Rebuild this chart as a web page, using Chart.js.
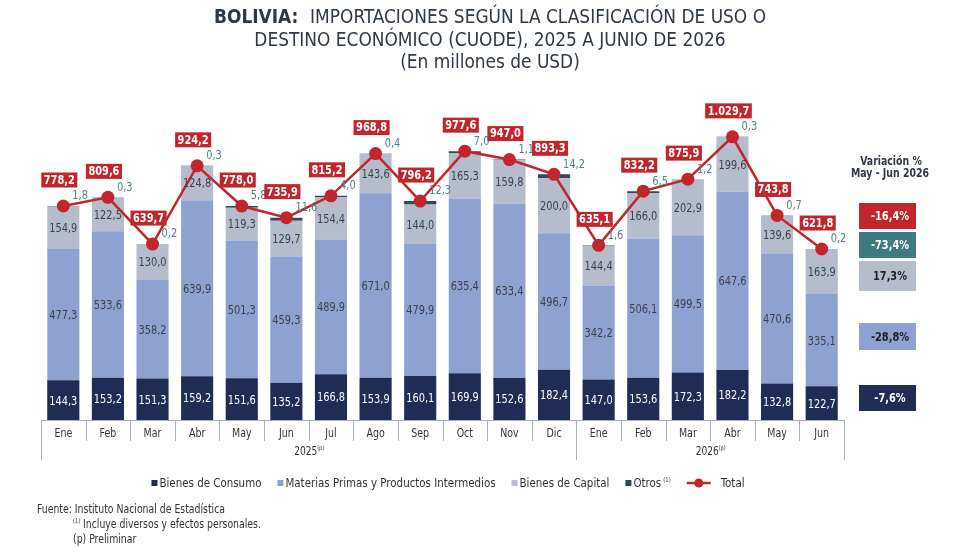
<!DOCTYPE html>
<html><head><meta charset="utf-8">
<script src="https://cdn.jsdelivr.net/npm/chart.js@4.4.1/dist/chart.umd.min.js"></script>
<style>html,body{margin:0;padding:0;background:#fff;}#wrap{width:980px;height:553px;position:relative;}</style>
</head><body>
<div id="wrap"><canvas id="c" width="980" height="553"></canvas></div>
<script>
const months = ['Ene','Feb','Mar','Abr','May','Jun','Jul','Ago','Sep','Oct','Nov','Dic','Ene','Feb','Mar','Abr','May','Jun'];
const years = ['2025','2026'];
const consumo = [144.3,153.2,151.3,159.2,151.6,135.2,166.8,153.9,160.1,169.9,152.6,182.4,147.0,153.6,172.3,182.2,132.8,122.7];
const materias = [477.3,533.6,358.2,639.9,501.3,459.3,489.9,671.0,479.9,635.4,633.4,496.7,342.2,506.1,499.5,647.6,470.6,335.1];
const capital = [154.9,122.5,130.0,124.8,119.3,129.7,154.4,143.6,144.0,165.3,159.8,200.0,144.4,166.0,202.9,199.6,139.6,163.9];
const otros = [1.8,0.3,0.2,0.3,5.8,11.6,4.0,0.4,12.3,7.0,1.1,14.2,1.6,6.5,1.2,0.3,0.7,0.2];
const total = [778.2,809.6,639.7,924.2,778.0,735.9,815.2,968.8,796.2,977.6,947.0,893.3,635.1,832.2,875.9,1029.7,743.8,621.8];
const variacionLabels = ['Total','Otros','Bienes de Capital','Materias Primas','Bienes de Consumo'];
const variacion = [-16.4,-73.4,17.3,-28.8,-7.6];

const C_CONS='#1f2c55', C_MAT='#8ea2d2', C_CAP='#b5bdcc', C_OTR='#2d4a55', C_TOT='#c1262d', C_TEAL='#3d7b80';
const FF = "'DejaVu Sans Condensed','DejaVu Sans',sans-serif";
const SX = 0.84;

function fmt(v){
  const s = v.toFixed(1).split('.');
  const ip = s[0].replace(/\B(?=(\d{3})+(?!\d))/g,'.');
  return ip + ',' + s[1];
}
function W(ctx,s,font){ ctx.font=font; return ctx.measureText(s).width; }
function T(ctx,s,x,y,font,align,sx){
  ctx.save(); ctx.font=font; ctx.textAlign=align||'center'; ctx.textBaseline='middle';
  ctx.translate(x,y); ctx.scale(sx==null?SX:sx,1); ctx.fillText(s,0,0); ctx.restore();
}

const overlay = {
  id:'overlay',
  afterDatasetsDraw(chart){
    const ctx = chart.ctx, xs = chart.scales.x, ys = chart.scales.y, ca = chart.chartArea;
    const metaO = chart.getDatasetMeta(3), metaT = chart.getDatasetMeta(4);
    const lf = '13px '+FF;
    for(let i=0;i<months.length;i++){
      const x = xs.getPixelForValue(i);
      const y0 = ys.getPixelForValue(0), y1 = ys.getPixelForValue(consumo[i]);
      const y2 = ys.getPixelForValue(consumo[i]+materias[i]);
      const y3 = ys.getPixelForValue(consumo[i]+materias[i]+capital[i]);
      ctx.fillStyle='#ffffff';
      T(ctx, fmt(consumo[i]), x, (y0+y1)/2+1, lf);
      ctx.fillStyle='#3b3f48';
      T(ctx, fmt(materias[i]), x, (y1+y2)/2+1, lf);
      T(ctx, fmt(capital[i]), x, (y2+y3)/2+1, lf);
      const bw = metaO.data[i].width;
      const y4 = ys.getPixelForValue(consumo[i]+materias[i]+capital[i]+otros[i]);
      ctx.fillStyle='#4f8088';
      T(ctx, fmt(otros[i]), x+bw/2-7, y4-10, lf, 'left');
    }
    const bf = 'bold 13px '+FF;
    for(let i=0;i<total.length;i++){
      const p = metaT.data[i];
      const t = fmt(total[i]);
      const w = W(ctx,t,bf)*SX + 5, h = 15;
      const cx = p.x - 4, cy = p.y - 26;
      ctx.fillStyle = C_TOT;
      ctx.fillRect(cx-w/2, cy-h/2, w, h);
      ctx.fillStyle='#fff';
      T(ctx, t, cx, cy+0.5, bf);
    }
    // x axis box
    const left = ca.left, right = ca.right, base = ys.getPixelForValue(0);
    ctx.save();
    ctx.strokeStyle='#a9adb5'; ctx.lineWidth=1;
    ctx.beginPath();
    ctx.moveTo(left, base+0.5); ctx.lineTo(right, base+0.5);
    const step = (xs.getPixelForValue(1)-xs.getPixelForValue(0));
    for(let i=0;i<=months.length;i++){
      const xx = Math.round(xs.getPixelForValue(i) - step/2)+0.5;
      const longLine = (i===0 || i===12 || i===months.length);
      ctx.moveTo(xx, base); ctx.lineTo(xx, longLine ? base+40 : base+21);
    }
    ctx.stroke();
    ctx.restore();
    ctx.fillStyle='#333';
    for(let i=0;i<months.length;i++){
      T(ctx, months[i], xs.getPixelForValue(i), base+14, '12.5px '+FF);
    }
    [[0,11],[12,17]].forEach((r,k)=>{
      const xa = xs.getPixelForValue(r[0]) - step/2, xb = xs.getPixelForValue(r[1]) + step/2;
      const cx = (xa+xb)/2;
      const tw = W(ctx,years[k],'12px '+FF)*SX;
      T(ctx, years[k], cx-3, base+32, '12px '+FF);
      T(ctx, '(p)', cx-3+tw/2, base+28, '6.5px '+FF, 'left');
    });
  },
  afterDraw(chart){
    const ctx = chart.ctx;
    // title (uniform horizontal scale from line 1)
    ctx.fillStyle='#2f3846';
    const l1a='BOLIVIA:  ', l1b='IMPORTACIONES SEGÚN LA CLASIFICACIÓN DE USO O';
    const tfB='bold 20px '+FF, tfN='20px '+FF;
    const wa = W(ctx,l1a,tfB), wb = W(ctx,l1b,tfN);
    const s1 = 552/(wa+wb);
    const st = 490 - (wa+wb)*s1/2;
    T(ctx, l1a, st, 18, tfB, 'left', s1);
    T(ctx, l1b, st+wa*s1, 18, tfN, 'left', s1);
    T(ctx, 'DESTINO ECONÓMICO (CUODE), 2025 A JUNIO DE 2026', 490, 41, tfN, 'center', s1);
    T(ctx, '(En millones de USD)', 490, 63, tfN, 'center', s1);
    // variation panel
    ctx.fillStyle='#2f3846';
    const vf='bold 12.5px '+FF;
    const sv = 78/W(ctx,'May - Jun 2026',vf);
    T(ctx, 'Variación %', 891, 162, vf, 'center', sv);
    T(ctx, 'May - Jun 2026', 890, 174, vf, 'center', sv);
    const boxes = [
      {y:203,h:26,bg:C_TOT,fg:'#fff'},
      {y:232,h:26,bg:C_TEAL,fg:'#fff'},
      {y:261,h:30,bg:C_CAP,fg:'#222'},
      {y:323,h:27,bg:C_MAT,fg:'#222'},
      {y:385,h:26,bg:C_CONS,fg:'#fff'}
    ];
    boxes.forEach((b,i)=>{
      ctx.fillStyle=b.bg; ctx.fillRect(859,b.y,57,b.h);
      ctx.fillStyle=b.fg;
      T(ctx, variacion[i].toFixed(1).replace('.',',')+'%', 890, b.y+b.h/2+1, 'bold 13px '+FF);
    });
    // legend (flowed, uniform scale)
    const lf='12.5px '+FF, ly=483;
    const sl = 102/W(ctx,'Bienes de Consumo',lf);
    const items=[
      {c:C_CONS,t:'Bienes de Consumo'},
      {c:C_MAT,t:'Materias Primas y Productos Intermedios'},
      {c:C_CAP,t:'Bienes de Capital'},
      {c:C_OTR,t:'Otros',sup:'(1)'},
      {c:C_TOT,t:'Total',line:true}
    ];
    const supF='6.5px '+FF;
    items.forEach(it=>{
      it.tw = W(ctx,it.t,lf)*sl + (it.sup ? W(ctx,it.sup,supF)*sl+2 : 0);
      it.mw = it.line ? 34 : 8;
    });
    const gap = 16;
    let totalW = items.reduce((a,it)=>a+it.mw+it.tw,0) + gap*(items.length-1);
    let x = 448 - totalW/2;
    items.forEach(it=>{
      if(it.line){
        ctx.save();
        ctx.strokeStyle=C_TOT; ctx.lineWidth=2.5;
        ctx.beginPath(); ctx.moveTo(x,ly); ctx.lineTo(x+24,ly); ctx.stroke();
        ctx.fillStyle=C_TOT; ctx.beginPath(); ctx.arc(x+12,ly,4.5,0,Math.PI*2); ctx.fill();
        ctx.restore();
      } else {
        ctx.fillStyle=it.c; ctx.fillRect(x, ly-3, 6, 6);
      }
      ctx.fillStyle='#333';
      T(ctx, it.t, x+it.mw, ly+1, lf, 'left', sl);
      if(it.sup){ T(ctx, it.sup, x+it.mw+W(ctx,it.t,lf)*sl+2, ly-3, supF, 'left', sl); }
      x += it.mw + it.tw + gap;
    });
    // footer (uniform scale)
    const ff='12px '+FF;
    const sf = 188/W(ctx,'Fuente: Instituto Nacional de Estadística',ff);
    ctx.fillStyle='#333';
    T(ctx, 'Fuente: Instituto Nacional de Estadística', 37, 510, ff, 'left', sf);
    T(ctx, '(1)', 73, 521, '6.5px '+FF, 'left', sf);
    T(ctx, 'Incluye diversos y efectos personales.', 83, 525, ff, 'left', sf);
    T(ctx, '(p) Preliminar', 73, 540, ff, 'left', sf);
  }
};

new Chart(document.getElementById('c'), {
  data:{
    labels: months,
    datasets:[
      {type:'bar', label:'Bienes de Consumo', data:consumo, backgroundColor:C_CONS, stack:'s', order:1},
      {type:'bar', label:'Materias Primas y Productos Intermedios', data:materias, backgroundColor:C_MAT, stack:'s', order:1},
      {type:'bar', label:'Bienes de Capital', data:capital, backgroundColor:C_CAP, stack:'s', order:1},
      {type:'bar', label:'Otros', data:otros, backgroundColor:C_OTR, stack:'s', order:1},
      {type:'line', label:'Total', data:total, borderColor:C_TOT, backgroundColor:C_TOT, borderWidth:2.5, pointRadius:6.5, pointBackgroundColor:C_TOT, pointBorderWidth:0, stack:'t', order:0, tension:0}
    ]
  },
  options:{
    responsive:false, animation:false, devicePixelRatio:1,
    layout:{padding:{left:41,right:136,top:90,bottom:133}},
    datasets:{bar:{categoryPercentage:1, barPercentage:0.72}},
    scales:{
      x:{display:false, stacked:true},
      y:{display:false, stacked:true, min:0, max:1200}
    },
    plugins:{legend:{display:false}, tooltip:{enabled:false}, title:{display:false}}
  },
  plugins:[overlay]
});
</script>
</body></html>
